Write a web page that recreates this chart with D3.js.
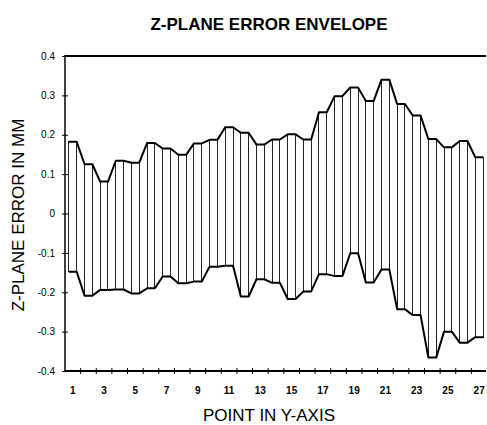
<!DOCTYPE html>
<html>
<head>
<meta charset="utf-8">
<script src="https://cdn.jsdelivr.net/npm/d3@7/dist/d3.min.js"></script>
<style>
  body { margin: 0; background: #fff; }
  svg { font-family: "Liberation Sans", Arial, sans-serif; }
</style>
</head>
<body>
<div id="chart"></div>
<script>
// Z-plane error envelope, high / low per point

const points = [1, 2, 3, 4, 5, 6, 7, 8, 9, 10, 11, 12, 13, 14, 15, 16, 17, 18, 19, 20, 21, 22, 23, 24, 25, 26, 27];
const upperErr = [0.182, 0.125, 0.081, 0.134, 0.129, 0.179, 0.165, 0.149, 0.178, 0.187, 0.219, 0.205, 0.175,
    0.188, 0.201, 0.188, 0.257, 0.298, 0.320, 0.286, 0.340, 0.278, 0.249, 0.189, 0.168, 0.184, 0.143];
const lowerErr = [-0.148, -0.209, -0.194, -0.193, -0.203, -0.190, -0.160, -0.177, -0.173, -0.135, -0.133, -0.211, -0.167,
    -0.176, -0.217, -0.198, -0.154, -0.159, -0.101, -0.175, -0.142, -0.243, -0.258, -0.366, -0.300, -0.328, -0.314];
const yTicks = [0.4, 0.3, 0.2, 0.1, 0, -0.1, -0.2, -0.3, -0.4];
const xLabels = [1, 3, 5, 7, 9, 11, 13, 15, 17, 19, 21, 23, 25, 27];

const chartW = 487;
const chartH = 425;
const plotL = 65, plotR = 487, plotT = 56, plotB = 371;

const svg = d3.select("#chart")
    .append("svg")
    .attr("width", chartW)
    .attr("height", chartH);

const x = d3.scaleBand()
    .domain(points)
    .range([plotL, plotR])
    .padding(0);

const y = d3.scaleLinear()
    .domain([-0.4, 0.4])
    .range([plotB, plotT]);

const barW = x.bandwidth() / 2;
const barX = p => x(p) + x.bandwidth() / 4;

// bars
svg.append("g")
    .selectAll("rect")
    .data(points)
    .enter()
    .append("rect")
    .attr("x", p => barX(p))
    .attr("width", barW)
    .attr("y", (p, i) => y(upperErr[i]))
    .attr("height", (p, i) => y(lowerErr[i]) - y(upperErr[i]))
    .attr("fill", "#fff")
    .attr("stroke", "#222")
    .attr("stroke-width", 1)
    .attr("shape-rendering", "crispEdges");

// envelope lines, flat over each bar and slanted across the gaps
function envelope(vals) {
    const pts = [];
    points.forEach((p, i) => {
        pts.push([barX(p), y(vals[i])]);
        pts.push([barX(p) + barW, y(vals[i])]);
    });
    return d3.line()(pts);
}

svg.append("path")
    .attr("d", envelope(upperErr))
    .attr("fill", "none")
    .attr("stroke", "#000")
    .attr("stroke-width", 2)
    .attr("stroke-linejoin", "round");

svg.append("path")
    .attr("d", envelope(lowerErr))
    .attr("fill", "none")
    .attr("stroke", "#000")
    .attr("stroke-width", 2)
    .attr("stroke-linejoin", "round");

// frame
svg.append("line")
    .attr("x1", plotL).attr("x2", plotR - 1)
    .attr("y1", plotT).attr("y2", plotT)
    .attr("stroke", "#000").attr("stroke-width", 2);
svg.append("line")
    .attr("x1", plotL).attr("x2", plotR - 1)
    .attr("y1", plotB).attr("y2", plotB)
    .attr("stroke", "#000").attr("stroke-width", 2);
svg.append("line")
    .attr("x1", plotL).attr("x2", plotL)
    .attr("y1", plotT - 1).attr("y2", plotB + 1)
    .attr("stroke", "#000").attr("stroke-width", 1.5);

// y axis
const yAxis = svg.append("g")
    .attr("transform", `translate(${plotL},0)`)
    .call(d3.axisLeft(y)
        .tickValues(yTicks)
        .tickSize(3)
        .tickPadding(7)
        .tickFormat(d => d === 0 ? "0" : String(d)));
yAxis.select(".domain").remove();
yAxis.selectAll(".tick line").attr("x1", 3).attr("stroke", "#000");
yAxis.selectAll(".tick text")
    .attr("font-size", 10)
    .attr("font-family", "Liberation Sans, Arial, sans-serif")
    .attr("fill", "#000");

// x axis: labels on odd points, ticks between points
const xAxis = svg.append("g")
    .attr("transform", `translate(0,${plotB})`)
    .call(d3.axisBottom(x)
        .tickValues(xLabels)
        .tickSize(0)
        .tickPadding(16));
xAxis.select(".domain").remove();
xAxis.selectAll(".tick text")
    .attr("font-size", 10)
    .attr("font-weight", "bold")
    .attr("font-family", "Liberation Sans, Arial, sans-serif")
    .attr("fill", "#000");

svg.append("g")
    .selectAll("line")
    .data(points.slice(1))
    .enter()
    .append("line")
    .attr("x1", p => x(p))
    .attr("x2", p => x(p))
    .attr("y1", plotB - 3)
    .attr("y2", plotB + 3)
    .attr("stroke", "#000")
    .attr("stroke-width", 1);

// titles
svg.append("text")
    .attr("x", 269)
    .attr("y", 30)
    .attr("text-anchor", "middle")
    .attr("font-size", 17)
    .attr("font-weight", "bold")
    .text("Z-PLANE ERROR ENVELOPE");

svg.append("text")
    .attr("x", 269)
    .attr("y", 421)
    .attr("text-anchor", "middle")
    .attr("font-size", 17)
    .text("POINT IN Y-AXIS");

svg.append("text")
    .attr("transform", "translate(24,215) rotate(-90)")
    .attr("text-anchor", "middle")
    .attr("font-size", 17)
    .text("Z-PLANE ERROR IN MM");
</script>
</body>
</html>
